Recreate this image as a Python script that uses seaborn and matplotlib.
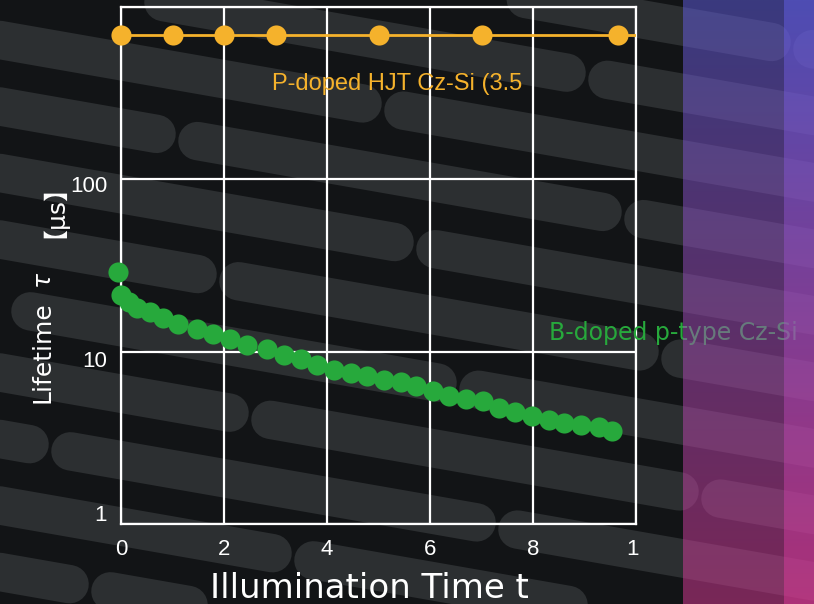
import numpy as np
import matplotlib
matplotlib.use("Agg")
import matplotlib.pyplot as plt
import matplotlib.transforms as mtransforms
from matplotlib.ticker import FixedLocator, NullLocator
import seaborn as sns

# ---- data ----------------------------------------------------------------
p_time = [0, 1, 2, 3, 5, 7, 9.66]
p_lifetime = [690, 690, 690, 690, 690, 690, 690]

b_time = [-0.06, 0.0, 0.15, 0.32, 0.57, 0.81, 1.10, 1.47, 1.78, 2.11, 2.44,
          2.83, 3.16, 3.49, 3.80, 4.13, 4.46, 4.77, 5.10, 5.43, 5.73, 6.05,
          6.37, 6.70, 7.02, 7.34, 7.66, 7.99, 8.31, 8.61, 8.93, 9.28, 9.54]
b_lifetime = [28.9, 21.2, 19.5, 18.0, 16.9, 15.6, 14.4, 13.6, 12.7, 11.9, 11.0,
              10.3, 9.6, 9.1, 8.4, 7.85, 7.55, 7.25, 6.87, 6.70, 6.34, 5.93,
              5.55, 5.33, 5.19, 4.72, 4.48, 4.25, 4.0, 3.86, 3.76, 3.66, 3.47]

x_ticks = [0, 2, 4, 6, 8, 10]
x_tick_labels = ["0", "2", "4", "6", "8", "1"]
y_ticks = [1, 10, 100]
y_tick_labels = ["1", "10", "100"]

p_label = "P-doped HJT Cz-Si (3.5"
b_label = "B-doped p-type Cz-Si"
x_title = "Illumination Time t"
y_title_word = "Lifetime"
y_title_symbol = "τ"
y_title_unit = "【μs】"

# ---- style -----------------------------------------------------------------
sns.set_theme(style="dark")
plt.rcParams["font.family"] = ["DejaVu Sans", "Noto Sans CJK SC"]

BG = "#121416"
STRIPE = "#2c2f31"
ORANGE = "#f5b22c"
GREEN = "#27a93c"
TICK_FONT = "Liberation Sans"

W, H = 814, 604
fig = plt.figure(figsize=(W / 100, H / 100), dpi=100, facecolor=BG)

# ---- decorative background: slanted rounded bars -----------------------------
bg = fig.add_axes([0, 0, 1, 1], zorder=0)
bg.set_xlim(0, W)
bg.set_ylim(H, 0)
bg.axis("off")
bg.set_facecolor(BG)

slope = 0.175
angle = np.arctan(slope)
row_pitch = 66.5
bar_thick = 39.0 * np.cos(angle)           # perpendicular thickness in px
bar_lw = bar_thick * 72 / 100              # in points
cap_dx = (bar_thick / 2) * np.cos(angle)   # horizontal reach of a round cap
row_breaks = {-3: [], -2: [792], -1: [143, 587], 0: [383], 1: [177, 623],
              2: [415], 3: [218, 660], 4: [10, 458], 5: [250, 700],
              6: [50, 497], 7: [293], 8: [90], 9: []}
for k, breaks in row_breaks.items():
    y0 = 40 + row_pitch * k
    edges = [-80] + breaks + [W + 80]
    for a, b in zip(edges[:-1], edges[1:]):
        xa, xb = a + cap_dx + 1.5, b - cap_dx - 1.5
        bg.plot([xa, xb], [y0 + slope * xa, y0 + slope * xb], color=STRIPE,
                lw=bar_lw, solid_capstyle="round")

# ---- main axes ---------------------------------------------------------------
L, R, T, B = 121, 636, 7, 524
ax = fig.add_axes([L / W, 1 - B / H, (R - L) / W, (B - T) / H], zorder=1)
ax.set_facecolor("none")
ax.set_yscale("log")
ax.set_xlim(0, 10)
ax.set_ylim(1, 1000)

ax.xaxis.set_major_locator(FixedLocator(x_ticks))
ax.yaxis.set_major_locator(FixedLocator(y_ticks + [1000]))
ax.yaxis.set_minor_locator(NullLocator())
ax.xaxis.set_minor_locator(NullLocator())
ax.set_xticklabels(x_tick_labels)
ax.set_yticklabels(y_tick_labels + [""])
ax.grid(True, which="major", color="white", lw=1.6)
ax.set_axisbelow(True)
for s in ax.spines.values():
    s.set_color("white")
    s.set_linewidth(1.6)
ax.tick_params(axis="both", length=0, colors="white", labelsize=16)
ax.tick_params(axis="x", pad=11)
ax.tick_params(axis="y", pad=10)
for lab in ax.get_xticklabels() + ax.get_yticklabels():
    lab.set_fontfamily(TICK_FONT)
    lab.set_color("white")

# small nudges of individual tick labels (pixels)
y_nudges = {"1": 11, "10": -7, "100": -5}
for lab in ax.get_yticklabels():
    dy = y_nudges.get(lab.get_text(), 0)
    lab.set_transform(lab.get_transform() +
                      mtransforms.ScaledTranslation(0, dy / 100, fig.dpi_scale_trans))
for lab in ax.get_xticklabels():
    if lab.get_text() == "1":
        lab.set_transform(lab.get_transform() +
                          mtransforms.ScaledTranslation(-3 / 100, 0, fig.dpi_scale_trans))

# P-doped series: level line with markers
ax.axhline(p_lifetime[0], color=ORANGE, lw=2, zorder=3)
sns.scatterplot(x=p_time, y=p_lifetime, ax=ax, color=ORANGE, s=210,
                linewidth=0, zorder=4, clip_on=False)
# B-doped series
sns.scatterplot(x=b_time, y=b_lifetime, ax=ax, color=GREEN, s=210,
                linewidth=0, zorder=4, clip_on=False)
ax.set_xlabel("")
ax.set_ylabel("")

# ---- labels ------------------------------------------------------------------
fig.text(272 / W, 1 - 90 / H, p_label, color=ORANGE, fontsize=17,
         family=TICK_FONT, ha="left", va="baseline", zorder=3)
fig.text(549 / W, 1 - 340 / H, b_label, color=GREEN, fontsize=17,
         family=["DejaVu Sans"], ha="left", va="baseline", zorder=3)
fig.text(210 / W, 1 - 598 / H, x_title, color="white", fontsize=24.5,
         ha="left", va="baseline", zorder=3)

# y title in three pieces along a common baseline
ylab_x = 49 / W
ytxt = dict(color="white", fontsize=18, rotation=90, rotation_mode="anchor",
            ha="left", va="baseline", zorder=3)
fig.text(ylab_x, 1 - 403 / H, y_title_word, family=["DejaVu Sans"], **ytxt)
fig.text(ylab_x, 1 - 286 / H, y_title_symbol, family=["DejaVu Sans"],
         style="italic", **ytxt)
fig.text(ylab_x, 1 - 238 / H, y_title_unit,
         family=["DejaVu Sans", "Noto Sans CJK SC"], **ytxt)

# ---- gradient side panel -----------------------------------------------------
top_col = np.array([99, 97, 233]) / 255
bot_col = np.array([225, 59, 153]) / 255
t = np.linspace(0, 1, 256)[:, None]
grad = (top_col[None, :] * (1 - t) + bot_col[None, :] * t)[:, None, :]
for x0, x1, z in [(683, 814, 5), (784, 814, 6)]:
    pax = fig.add_axes([x0 / W, 0, (x1 - x0) / W, 1], zorder=z)
    pax.imshow(grad, aspect="auto", alpha=0.5, extent=[0, 1, 1, 0],
               interpolation="bilinear")
    pax.set_xlim(0, 1)
    pax.set_ylim(1, 0)
    pax.axis("off")
    pax.patch.set_alpha(0)

fig.savefig("out.png", dpi=100, facecolor=BG)
